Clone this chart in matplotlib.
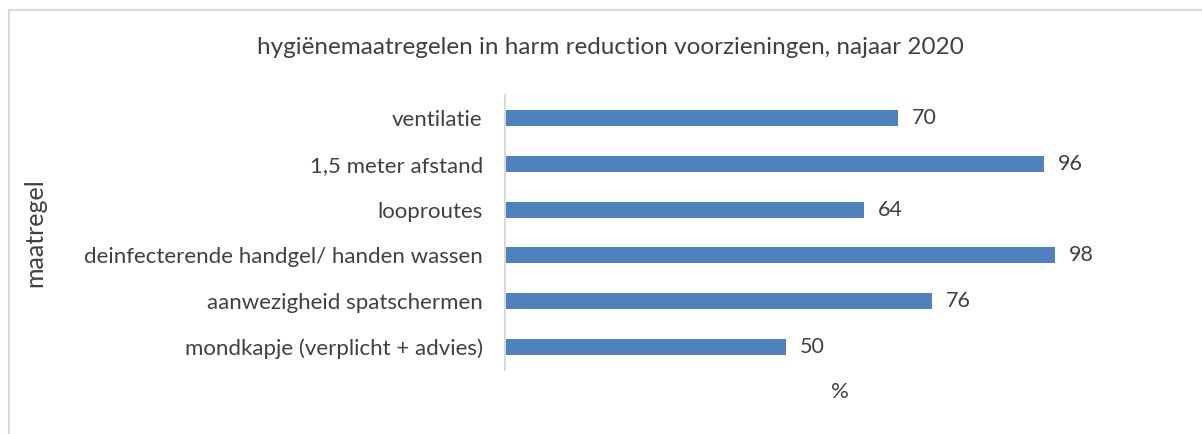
import matplotlib.pyplot as plt
from matplotlib.lines import Line2D

# data
categories = ['mondkapje (verplicht + advies)', 'aanwezigheid spatschermen',
              'deinfecterende handgel/ handen wassen', 'looproutes',
              '1,5 meter afstand', 'ventilatie']
values = [50, 76, 98, 64, 96, 70]

plt.rcParams['font.family'] = ['Lato', 'DejaVu Sans']
txt = '#404040'

fig = plt.figure(figsize=(12.02, 4.34), dpi=100)
ax = fig.add_axes([505 / 1202, 1 - 370 / 434, 600 / 1202, 275 / 434])

ax.barh(categories, values, height=0.35, color='#4F81BD')
for i, v in enumerate(values):
    ax.text(v + 2.5, i, str(v), va='center', ha='left', fontsize=15.5, color=txt)

ax.set_xlim(0, 600 / 5.612)
ax.set_ylim(-0.5, len(categories) - 0.5)
ax.set_xticks([])
ax.tick_params(axis='y', length=0, pad=16, labelsize=16, labelcolor=txt)
for s in ['top', 'right', 'bottom']:
    ax.spines[s].set_visible(False)
ax.spines['left'].set_color('#d9d9d9')
ax.spines['left'].set_linewidth(1.5)

fig.text(610 / 1202, 1 - 47 / 434, 'hygiënemaatregelen in harm reduction voorzieningen, najaar 2020',
         ha='center', va='center', fontsize=17.5, color=txt)
fig.text(840 / 1202, 1 - 392 / 434, '%', ha='center', va='center', fontsize=16, color=txt)
fig.text(35 / 1202, 1 - 233 / 434, 'maatregel', ha='center', va='center', rotation=90,
         fontsize=18, color=txt)

# chart border
fig.add_artist(Line2D([8.5 / 1202, 8.5 / 1202], [0, 1 - 9.5 / 434], color='#d9d9d9', lw=1.5))
fig.add_artist(Line2D([8.5 / 1202, 1], [1 - 9.5 / 434, 1 - 9.5 / 434], color='#d9d9d9', lw=1.5))

fig.savefig('out.png', dpi=100)
